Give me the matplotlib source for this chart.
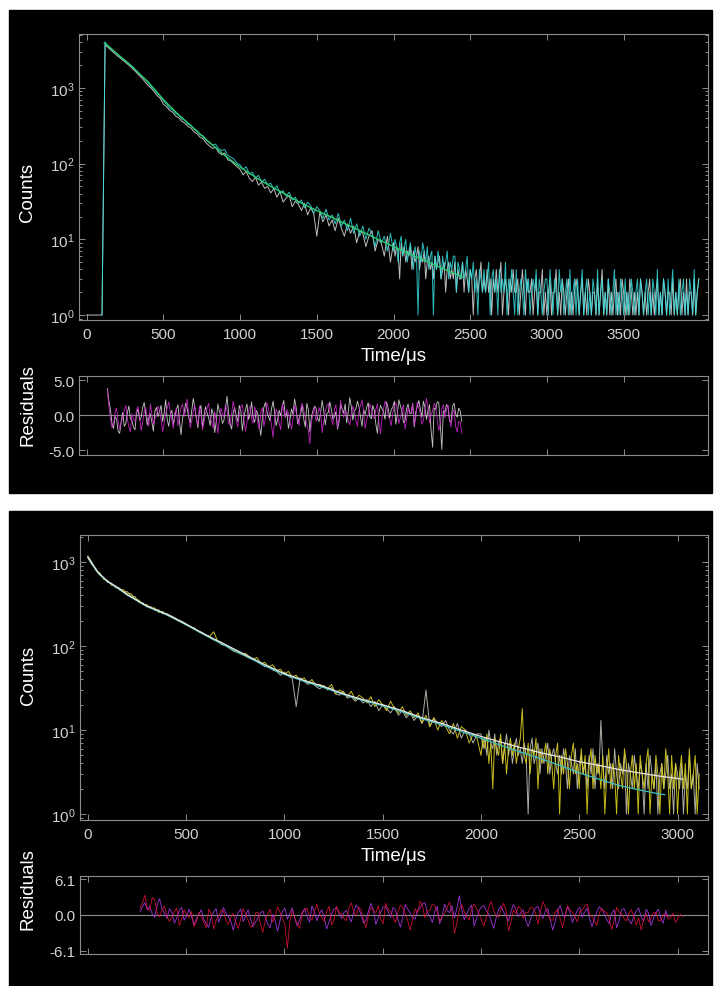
import numpy as np
import matplotlib
matplotlib.use('Agg')
import matplotlib.pyplot as plt
from matplotlib.patches import Rectangle
from matplotlib.ticker import FixedLocator, FormatStrFormatter, NullFormatter

plt.rcParams['font.family'] = ['Liberation Sans', 'DejaVu Sans']
plt.rcParams['mathtext.fontset'] = 'custom'
plt.rcParams['mathtext.rm'] = 'Liberation Sans'
plt.rcParams['mathtext.default'] = 'rm'
plt.rcParams['axes.unicode_minus'] = False

# ---- top panel: decay counts ----
# early channels: 20 us wide from t=0 (gray) / t=100 (cyan); tail: 10 us wide from t=2000
top_gray_early = [1, 1, 1, 1, 1, 1,
                  3700, 3400, 3120, 2880, 2650, 2460, 2290, 2110, 1960, 1790, 1630, 1470, 1350, 1210,
                  1080, 995, 890, 790, 728, 610, 565, 505, 478, 425,
                  402, 362, 342, 310, 295, 262, 248, 222, 212, 186,
                  172, 158, 165, 140, 131, 138, 112, 108, 99, 91,
                  84, 71, 79, 64, 58, 66, 52, 57, 47, 50,
                  41, 47, 36, 43, 31, 35, 38, 27, 32, 29,
                  24, 30, 21, 26, 22, 11, 23, 17, 21, 15,
                  18, 13, 19, 14, 11, 16, 12, 15, 9, 13,
                  12, 8, 11, 13, 7, 10, 9, 6, 11, 5]
top_gray_tail = [9, 6, 8, 7, 3, 9, 6, 8, 5, 7, 6, 8, 4, 7, 5, 6, 8, 4, 6, 5,
                 7, 3, 5, 6, 4, 5, 3, 6, 4, 5, 6, 3, 4, 5, 2, 4, 5, 3, 4, 3,
                 5, 2, 4, 3, 3, 5, 2, 4, 3, 2, 4, 3, 1, 3, 4, 2, 3, 5, 2, 3,
                 2, 4, 2, 3, 1, 3, 2, 4, 2, 3, 5, 1, 2, 3, 2, 1, 3, 2, 4, 2,
                 2, 3, 1, 2, 4, 2, 1, 3, 2, 2, 3, 1, 2, 3, 1, 2, 2, 4, 1, 2,
                 1, 2, 3, 1, 2, 2, 4, 1, 2, 1, 3, 2, 1, 2, 3, 1, 2, 1, 2, 3,
                 2, 1, 2, 3, 1, 2, 1, 3, 2, 1, 2, 2, 1, 3, 1, 2, 4, 1, 2, 1,
                 3, 1, 2, 1, 2, 3, 1, 2, 1, 3, 2, 1, 2, 1, 3, 2, 1, 2, 1, 2,
                 1, 3, 2, 1, 2, 1, 2, 3, 1, 2, 1, 2, 3, 1, 2, 1, 3, 2, 1, 2,
                 2, 1, 3, 1, 2, 1, 2, 3, 1, 2, 1, 3, 1, 2, 2, 1, 3, 1, 2, 3]
top_cyan_early = [1, 4050, 3560, 3280, 3010, 2790, 2590, 2400, 2230, 2060, 1900, 1720, 1570, 1420,
                  1300, 1170, 1040, 955, 842, 780, 672, 610, 538, 512, 458,
                  436, 388, 374, 330, 322, 284, 272, 240, 233, 204,
                  192, 176, 181, 158, 149, 153, 128, 122, 115, 101,
                  96, 84, 91, 73, 77, 65, 70, 57, 62, 53,
                  55, 46, 51, 40, 44, 37, 42, 33, 36, 30,
                  33, 26, 31, 28, 22, 27, 24, 19, 25, 18,
                  21, 16, 22, 15, 18, 13, 19, 12, 16, 11,
                  15, 10, 14, 12, 8, 13, 9, 11, 7, 12]
top_cyan_tail = [7, 10, 8, 5, 9, 11, 6, 8, 10, 5, 7, 9, 6, 4, 8, 6, 1, 7, 5, 9,
                 7, 5, 8, 4, 6, 7, 1, 6, 4, 7, 5, 3, 6, 4, 5, 7, 3, 5, 4, 6,
                 6, 2, 5, 4, 3, 5, 3, 4, 6, 2, 4, 3, 5, 2, 3, 1, 4, 3, 2, 4,
                 2, 3, 5, 1, 3, 4, 2, 3, 1, 4, 2, 3, 2, 5, 1, 3, 2, 4, 2, 1,
                 4, 1, 2, 3, 2, 1, 4, 2, 3, 1, 2, 3, 2, 4, 1, 3, 2, 1, 2, 3,
                 3, 1, 4, 2, 1, 3, 2, 1, 4, 2, 3, 1, 2, 3, 1, 4, 1, 2, 3, 1,
                 3, 1, 2, 4, 1, 2, 3, 1, 2, 1, 3, 2, 1, 4, 1, 2, 3, 1, 2, 1,
                 3, 2, 1, 2, 4, 1, 2, 1, 3, 2, 1, 3, 1, 2, 1, 3, 2, 1, 2, 3,
                 1, 3, 2, 1, 2, 3, 1, 2, 1, 3, 2, 1, 4, 1, 2, 1, 3, 2, 1, 3,
                 1, 2, 4, 1, 2, 1, 3, 1, 2, 3, 1, 2, 1, 3, 2, 1, 4, 1, 2, 3]
fit_top_t = [115, 150, 200, 300, 400, 500, 600, 700, 800, 900, 1000, 1100, 1200, 1300,
             1400, 1500, 1600, 1700, 1800, 1900, 2000, 2100, 2200, 2300, 2400, 2450]
fit_top = [3900, 3450, 2800, 1870, 1200, 700, 440, 290, 190, 128, 90, 66, 50, 39,
           30, 24, 19.5, 15.5, 12.5, 10, 8, 6.5, 5.3, 4.3, 3.5, 3.2]

# residuals, 10 us channels from t=135
res_top_gray = [3.8, 2.0, 0.8, -1.2, -1.9, -0.2, -0.6, -2.3, -2.6, -0.9, 0.4, -1.6, -1.2, 0.3, 1.3, -0.5, -0.8, -1.7, -2.1, 0.2,
                0.9, -0.7, -0.3, 1.1, 1.8, 0.2, -1.4, -0.4, 0.2, -1.0, -2.3, 0.6, 1.1, -0.2, 0.5, 1.4, -0.9, 0.3, 2.2, -0.6,
                -1.6, 0.1, 0.7, -1.3, -0.2, 0.8, 1.5, -0.9, -2.8, -0.4, 0.3, 1.7, 1.0, -0.3, -1.1, 0.6, 2.4, 0.9, -0.5, -1.8,
                0.6, 1.4, -1.8, -0.1, 1.2, 0.3, -0.4, -1.5, 0.9, 0.2, -2.5, -0.8, 1.6, 0.5, 0.1, -1.2, -0.7, 1.0, 2.7, 0.4,
                -1.3, -2.0, 0.4, 1.1, -0.1, -0.9, 1.4, 0.6, -2.2, -0.3, 0.8, 1.6, -0.6, 0.2, 1.9, -0.4, -1.0, 0.7, 0.3, -1.4,
                -2.9, -0.5, 1.1, 1.8, 0.5, -0.2, -0.8, 0.9, 2.0, 0.4, -1.5, -0.6, 0.7, -0.1, 1.3, 2.1, -0.3, 0.5, -1.9, -0.7,
                0.9, 0.1, 2.3, 1.2, -1.2, -0.4, 0.2, 1.5, -0.6, -1.7, 1.7, 0.8, -2.4, -0.2, 0.6, 1.3, 1.0, -0.5, -0.9, 0.4,
                2.1, 0.7, -1.4, 0.2, 0.4, 1.9, 0.8, -0.6, -0.2, 0.5, -2.0, -1.0, 1.5, 0.9, 0.3, 1.6, -1.1, 0.4, 2.5, 1.2,
                -0.7, 0.6, 0.9, 2.0, 1.2, -0.3, -1.6, 0.8, 0.1, 1.1, 1.8, -0.2, -0.5, 1.4, 0.7, -1.3, -2.6, 0.3, 1.4, 0.9,
                0.5, -0.6, 1.9, 1.0, -0.4, 0.8, 1.1, 2.0, -1.3, 0.2, 2.2, 1.3, 0.6, -1.1, -0.8, 0.9, 1.6, 0.4, 0.2, 1.7,
                -1.7, 0.4, 1.3, 2.1, 0.9, -0.3, 2.0, 1.1, -0.6, 0.7, 1.5, -2.2, -4.6, 1.0, 0.8, 1.9, 1.8, -1.4, -4.9, 0.6,
                0.4, 1.5, 1.2, -0.8, -1.0, 1.3, 1.7, 0.2, -0.3, 1.0, 0.6, -0.9]
res_top_mag = [3.5, 1.2, -0.5, -1.8, -1.2, 0.4, 1.0, -0.9, -2.0, -1.1, -0.3, 0.6, 1.4, -0.5, -1.7, -2.4, 0.2, -0.6, -0.9, 0.8,
               1.2, -0.3, -2.2, -1.0, 0.5, 1.1, -0.4, -1.6, 1.6, 0.2, -1.3, -0.5, -0.1, 1.3, 0.8, -0.7, -2.4, -1.1, 0.3, 1.0,
               1.9, 0.5, -0.7, -1.9, 0.4, 0.9, -1.5, -0.3, 1.1, 1.6, -0.2, 0.7, 2.3, 0.1, -1.8, -0.8, 0.6, 1.4, -0.6, -1.4,
               1.3, 0.2, -2.1, -0.9, 0.2, 1.0, 1.7, -0.4, -1.0, -1.9, 0.5, -0.8, -2.6, -0.6, 1.0, 0.3, -0.3, 1.5, 0.7, -1.2,
               -1.4, 0.3, 2.0, 0.6, -0.8, -1.7, 0.1, 1.2, 1.5, -0.6, -2.3, -1.0, 0.6, 1.3, -0.5, -1.2, 1.2, 0.4, -1.1, -2.0,
               0.4, 1.1, -1.6, -0.5, 1.8, 0.9, -0.2, -1.4, -3.2, -0.7, 0.9, 0.2, -1.2, -2.1, 1.6, 0.6, -0.4, 0.8, 0.3, -0.9,
               -2.0, -0.6, 1.4, 0.5, -0.7, -1.5, 0.9, 1.7, 0.7, -0.4, -1.3, -2.2, -4.1, -1.0, 0.2, 1.2, -0.9, -0.1, 1.1, 0.3,
               -2.5, -0.9, 0.5, 1.3, 1.7, 0.2, -0.6, -1.4, 0.8, 1.5, -1.8, -0.5, 2.1, 0.9, -0.3, 0.6, 0.4, -0.8, -1.4, 0.1,
               1.3, 0.4, -0.8, -1.6, 0.6, 1.4, 2.2, 0.5, -1.9, -0.7, 0.1, 1.6, 1.0, -0.2, -0.5, 0.8, 1.6, -0.9, -2.7, -0.4,
               0.9, 2.0, 1.4, -0.1, -0.6, -1.5, 0.3, 1.2, 1.8, 0.6, -1.2, -0.3, 0.7, 1.5, -2.0, -0.8, 1.1, 0.2, 0.4, 1.6,
               -1.5, -0.4, 1.9, 1.0, 0.2, -1.3, -0.8, 0.9, 2.4, 1.1, -1.1, 0.1, 0.6, 1.7, 1.3, -0.6, -2.2, -1.2, 0.9, 1.5,
               -0.4, 0.7, 1.5, -0.5, -1.7, 0.3, 0.8, -1.6, -2.4, -0.9, -1.0, -2.6]

# ---- bottom panel ----
bot_gray_early = [1120, 935, 840, 700, 655, 575, 560, 495, 492, 440, 445, 392, 388, 330, 328, 292,
                  295, 268, 270, 242,
                  244, 231, 219, 206, 196, 184, 170, 165, 151, 146,
                  134, 127, 118, 114, 104, 101, 94, 87, 84, 80,
                  76, 72, 69, 66, 61, 57, 58, 52, 50, 45,
                  49, 44, 41, 19, 42, 38, 35, 37, 33, 31,
                  34, 30, 32, 27, 26, 29, 24, 25, 22, 24,
                  21, 23, 19, 22, 17, 20, 18, 16, 19, 15,
                  17, 14, 16, 13, 15, 12, 30, 11, 14, 12,
                  11, 13, 10, 9, 12, 8, 10, 9, 7, 9]
bot_gray_tail = [9, 6, 8, 5, 10, 7, 6, 9, 5, 7, 8, 4, 6, 9, 5, 7, 4, 6, 8, 5,
                 6, 4, 7, 5, 1, 6, 8, 4, 5, 7, 3, 6, 4, 5, 7, 3, 5, 6, 4, 3,
                 5, 3, 6, 4, 2, 5, 4, 3, 6, 2, 4, 5, 3, 4, 2, 5, 3, 6, 2, 4,
                 3, 13, 4, 2, 5, 3, 4, 2, 6, 3, 2, 4, 3, 5, 1, 4, 3, 2, 5, 3,
                 2, 4, 3, 1, 4, 2, 5, 3, 2, 4, 1, 3, 4, 2, 3, 5, 2, 3, 1, 4,
                 3, 2, 4, 1, 3, 2, 5, 2, 3, 1, 4, 2]
bot_yellow_early = [1180, 990, 800, 745, 625, 605, 530, 520, 468, 470, 418, 420, 365, 352, 310, 312,
                    280, 285, 252, 258,
                    236, 225, 214, 200, 191, 178, 172, 160, 150, 142,
                    136, 130, 148, 115, 111, 102, 96, 91, 86, 81,
                    82, 75, 70, 73, 62, 64, 56, 60, 51, 53,
                    46, 50, 43, 45, 39, 42, 36, 40, 34, 35,
                    33, 31, 35, 27, 30, 28, 25, 29, 23, 26,
                    24, 21, 25, 19, 23, 20, 17, 22, 18, 16,
                    19, 15, 17, 14, 16, 12, 15, 11, 14, 10,
                    13, 11, 9, 12, 8, 11, 10, 7, 9, 8]
bot_yellow_tail = [5, 8, 6, 9, 4, 7, 2, 8, 6, 5, 9, 4, 7, 3, 6, 8, 5, 7, 4, 6,
                   8, 18, 5, 4, 7, 3, 6, 5, 8, 2, 6, 4, 5, 7, 3, 6, 4, 2, 5, 7,
                   1, 5, 3, 6, 4, 2, 5, 7, 3, 4, 2, 6, 3, 5, 1, 4, 6, 2, 5, 3,
                   4, 2, 5, 1, 3, 6, 2, 4, 3, 1, 5, 3, 2, 6, 4, 1, 3, 5, 2, 4,
                   1, 5, 3, 2, 4, 6, 1, 3, 2, 5, 3, 1, 4, 2, 6, 3, 1, 5, 2, 4,
                   1, 3, 5, 2, 4, 1, 6, 2, 3, 5, 1, 3]
fit_bot_t = [0, 50, 100, 150, 200, 300, 400, 500, 600, 700, 800, 900, 1000, 1100, 1200, 1300,
             1400, 1500, 1600, 1700, 1800, 1900, 2000, 2100, 2200, 2300, 2400, 2500, 2600,
             2700, 2800, 2900, 3027]
fit_bot_white = [1150, 760, 590, 500, 410, 300, 240, 182, 136, 104, 79, 60, 47, 39, 33, 27,
                 23, 20, 17, 14, 12, 10, 8.4, 7.2, 6.2, 5.4, 4.8, 4.2, 3.8, 3.4, 3.1, 2.85, 2.6]
fit_cyan_t = [0, 50, 100, 150, 200, 300, 400, 500, 600, 700, 800, 900, 1000, 1100, 1200, 1300,
              1400, 1500, 1600, 1700, 1800, 1900, 2000, 2100, 2200, 2300, 2400, 2500, 2600,
              2700, 2800, 2900, 2935]
fit_bot_cyan = [1140, 750, 585, 495, 405, 296, 236, 179, 133, 101, 77, 58, 46, 38, 32, 26.5,
                22.5, 19.5, 16.5, 13.6, 11.6, 9.6, 8.0, 6.6, 5.5, 4.6, 3.8, 3.1, 2.6, 2.2,
                1.95, 1.75, 1.7]

# residuals, 12.5 us channels from t=265
res_bot_red = [1.2, 2.0, 3.4, 1.1, 0.8, 3.0, 2.6, 0.4, -0.3, 0.9, 1.5, -0.2, -1.1, -0.4, 0.6, 1.2, -1.8, -0.7, 0.9, 0.1,
               -0.5, 0.6, -2.0, -1.1, 0.4, -0.3, -1.3, -2.2, 1.0, 0.2, -2.4, -0.9, -0.2, 0.8, 0.7, -1.0, -1.6, -0.4, 0.3, -1.2,
               -2.3, -0.7, 1.1, 0.2, -0.8, -2.1, -1.9, 0.3, 0.5, -1.4, -3.0, -0.9, 0.2, 1.0, -1.2, -0.3, 1.4, 0.5, -0.6, -1.6,
               -5.7, -1.2, 0.8, -0.5, -1.5, -2.3, 0.1, 0.9, 1.2, -0.2, -0.9, 0.6, 1.8, 0.3, -0.4, -1.1, 0.6, 1.5, -1.7, -0.8,
               1.5, 0.2, 0.3, -0.6, -1.0, 1.1, 2.1, 0.5, -0.2, 1.4, 0.9, -0.8, -2.2, -0.1, 1.3, 0.7, 0.4, 1.6, -0.7, -1.5,
               2.0, 1.0, 0.6, -0.4, -1.3, 0.5, 1.7, 1.2, 0.2, -1.0, -2.6, -0.6, 1.1, 0.3, 2.4, 1.5, -0.5, 0.7, 0.8, 1.9,
               1.6, 0.4, -1.1, -0.2, 0.3, 1.3, 2.2, 0.6, -3.1, -1.4, 1.0, 1.8, 0.5, -0.3, -0.8, 0.9, 1.9, 1.1, 0.2, -0.9,
               -1.9, -0.5, 1.4, 2.3, 0.7, -0.1, -0.4, 1.0, 2.0, 0.8, -2.7, -1.2, 0.9, 0.2, 1.5, 1.1, -0.6, 0.5, 0.4, 1.3,
               1.2, 0.3, -1.6, 0.7, 2.3, 1.4, 0.1, -0.8, -0.9, 0.5, 1.0, -0.6, -2.2, -0.2, 1.6, 0.9, 0.5, -0.3, -1.2, 0.6,
               0.8, 1.5, 1.9, 0.2, -0.3, -1.1, -1.8, 0.4, 1.1, 0.6, 0.4, -0.7, -2.5, -0.9, 1.3, 0.5, 0.2, -0.6, -1.0, 0.3,
               0.9, -0.2, -1.7, -0.5, -2.6, -0.8, 0.3, -1.2, -0.6, 0.4, 0.5, -1.0, -0.9, 0.1, 0.2, -0.7, -0.4, 0.3, -1.3, -0.5,
               0.1, -0.3]
res_bot_purple = [0.6, 1.4, 2.1, 0.9, 1.5, 0.2, -0.4, 1.7, 2.8, 1.0, 0.3, -0.6, 1.1, 0.4, -1.4, -0.5, 0.8, 1.3, -0.9, -0.2,
                  1.0, -0.3, -1.7, -0.6, 0.2, 0.9, -0.8, -1.5, -2.1, -0.4, 0.5, 1.1, -1.2, -0.2, 1.3, 0.3, -0.3, -1.1, -2.6, -0.8,
                  0.4, 1.0, -1.1, -0.2, 0.9, -0.7, -2.0, -1.2, -0.5, 0.3, 0.7, -0.4, -1.5, -2.2, 0.1, -0.9, -2.8, -1.0, 0.6, 1.2,
                  -0.7, 0.3, 1.2, -0.5, -1.9, -0.8, 0.4, 1.1, -0.3, -1.2, 1.5, 0.6, -1.0, 0.2, 0.9, -0.4, -2.4, -1.1, 0.2, 1.0,
                  1.3, 0.5, -0.6, 0.4, 0.8, -0.3, -1.2, 0.6, 1.7, 1.1, 0.1, -1.4, -0.9, 0.7, 2.0, 0.9, -1.6, -0.5, 0.5, 1.4,
                  1.4, 0.6, -0.4, 1.3, 0.9, -0.8, -2.1, -0.3, 1.8, 1.0, 0.3, -0.5, -0.7, 0.8, 1.2, 1.9, 2.1, 0.4, -0.2, -1.3,
                  0.6, 1.5, -1.5, -0.3, 1.9, 0.8, 0.4, 1.6, -0.5, 1.2, 3.3, 0.9, -0.8, 0.2, 1.1, 1.7, -1.9, -0.6, 0.7, 1.4,
                  1.6, 0.7, 0.2, -1.1, -2.3, -0.4, 1.0, 1.5, 0.5, -0.2, -1.0, 0.6, 1.8, 1.0, -0.3, 0.4, 0.9, -0.9, -2.0, -0.7,
                  0.4, 1.2, 1.5, 0.3, -0.6, 0.7, 1.1, -0.8, -2.6, -1.1, 0.7, 1.6, 0.2, -0.4, 1.4, 0.5, -1.3, -0.2, 0.8, 1.3,
                  -0.4, 0.5, 1.2, -0.7, -2.0, -0.6, 0.6, 1.4, 1.0, 0.2, -0.8, -1.5, 0.3, 0.9, -2.2, -1.0, 0.9, 1.1, 0.1, -0.9,
                  -1.5, -0.2, 0.7, 1.2, -0.3, -1.1, 1.0, 0.3, -1.8, -0.6, 0.4, 1.0, -0.6, -1.4, 0.8, -0.3]


def chan(t0, step, vals):
    return t0 + step * np.arange(len(vals))


FRAME = '#8c8c8c'
TXT = '#d2d2d2'
W, H = 720, 987


def box(l, t, r, b):
    return [l / W, 1 - b / H, (r - l) / W, (b - t) / H]


def style(ax):
    ax.set_facecolor('black')
    for s in ax.spines.values():
        s.set_color(FRAME)
        s.set_linewidth(0.8)
    ax.tick_params(which='both', direction='in', top=True, right=True,
                   colors=FRAME, labelcolor=TXT, labelsize=11, width=0.7)
    ax.tick_params(which='major', length=4)
    ax.tick_params(which='minor', length=2.5)
    ax.tick_params(axis='x', pad=5)
    ax.tick_params(axis='y', pad=3)


fig = plt.figure(figsize=(7.2, 9.87), dpi=100, facecolor='white')
fig.patches.append(Rectangle((9 / W, 1 - 494 / H), 703 / W, 483 / H,
                             transform=fig.transFigure, color='black', zorder=-10))
fig.patches.append(Rectangle((9 / W, 0), 703 / W, (H - 512) / H,
                             transform=fig.transFigure, color='black', zorder=-10))

# top decay
gray_t = np.concatenate([chan(0, 20, top_gray_early), chan(2000, 10, top_gray_tail)])
cyan_t = np.concatenate([chan(100, 20, top_cyan_early), chan(2000, 10, top_cyan_tail)])
ax1 = fig.add_axes(box(79, 35, 708, 321))
style(ax1)
ax1.plot(gray_t, top_gray_early + top_gray_tail, color='#bdbdbd', lw=0.7)
ax1.plot(cyan_t, top_cyan_early + top_cyan_tail, color='#35dcdc', lw=0.7, alpha=0.85)
ax1.plot(fit_top_t, fit_top, color='#2ecc71', lw=1.0)
ax1.set_yscale('log')
ax1.set_ylim(0.86, 5150)
ax1.set_xlim(-50, 4050)
ax1.set_xticks(range(0, 4000, 500))
ax1.set_ylabel('Counts', color='white', fontsize=13.5)
ax1.yaxis.set_label_coords((36 - 79) / 629, 0.45)
ax1.set_xlabel('Time/μs', color='white', fontsize=13.5)
ax1.xaxis.set_label_coords(0.5, -0.094)

# top residuals
ax2 = fig.add_axes(box(79, 377, 708, 456))
style(ax2)
ax2.axhline(0, color=FRAME, lw=0.8)
ax2.plot(chan(135, 10, res_top_gray), res_top_gray, color='#c8c8c8', lw=0.6)
ax2.plot(chan(135, 10, res_top_mag), res_top_mag, color='#d22ad2', lw=0.6, alpha=0.9)
ax2.set_xlim(-50, 4050)
ax2.set_ylim(-5.7, 5.6)
ax2.set_xticks(range(0, 4000, 500))
ax2.xaxis.set_major_formatter(NullFormatter())
ax2.yaxis.set_major_locator(FixedLocator([-5, 0, 5]))
ax2.yaxis.set_major_formatter(FormatStrFormatter('%.1f'))
ax2.set_ylabel('Residuals', color='white', fontsize=13.5)
ax2.yaxis.set_label_coords((36 - 79) / 629, 0.64)

# bottom decay
bgray_t = np.concatenate([chan(0, 20, bot_gray_early), chan(2000, 10, bot_gray_tail)])
byel_t = np.concatenate([chan(0, 20, bot_yellow_early), chan(2000, 10, bot_yellow_tail)])
ax3 = fig.add_axes(box(80, 536, 708, 821))
style(ax3)
ax3.plot(bgray_t, bot_gray_early + bot_gray_tail, color='#aeaea6', lw=0.7)
ax3.plot(byel_t, bot_yellow_early + bot_yellow_tail, color='#dcd21e', lw=0.7, alpha=0.9)
ax3.plot(fit_cyan_t, fit_bot_cyan, color='#3cc0c0', lw=0.9)
ax3.plot(fit_bot_t, fit_bot_white, color='#e6e6e6', lw=0.9)
ax3.set_yscale('log')
ax3.set_ylim(0.85, 2100)
ax3.set_xlim(-40, 3155)
ax3.set_xticks(range(0, 3500, 500))
ax3.set_ylabel('Counts', color='white', fontsize=13.5)
ax3.yaxis.set_label_coords((37 - 80) / 628, 0.51)
ax3.set_xlabel('Time/μs', color='white', fontsize=13.5)
ax3.xaxis.set_label_coords(0.5, -0.095)

# bottom residuals
ax4 = fig.add_axes(box(80, 877, 708, 955))
style(ax4)
ax4.axhline(0, color=FRAME, lw=0.8)
ax4.plot(chan(265, 12.5, res_bot_purple), res_bot_purple, color='#9b35d8', lw=0.6)
ax4.plot(chan(265, 12.5, res_bot_red), res_bot_red, color='#e8123c', lw=0.6, alpha=0.85)
ax4.set_xlim(-40, 3155)
ax4.set_ylim(-6.7, 6.7)
ax4.set_xticks(range(0, 3500, 500))
ax4.xaxis.set_major_formatter(NullFormatter())
ax4.yaxis.set_major_locator(FixedLocator([-6.1, 0, 6.1]))
ax4.yaxis.set_major_formatter(FormatStrFormatter('%.1f'))
ax4.set_ylabel('Residuals', color='white', fontsize=13.5)
ax4.yaxis.set_label_coords((37 - 80) / 628, 0.85)

fig.savefig('out.png', dpi=100, facecolor='white')
plt.close(fig)
